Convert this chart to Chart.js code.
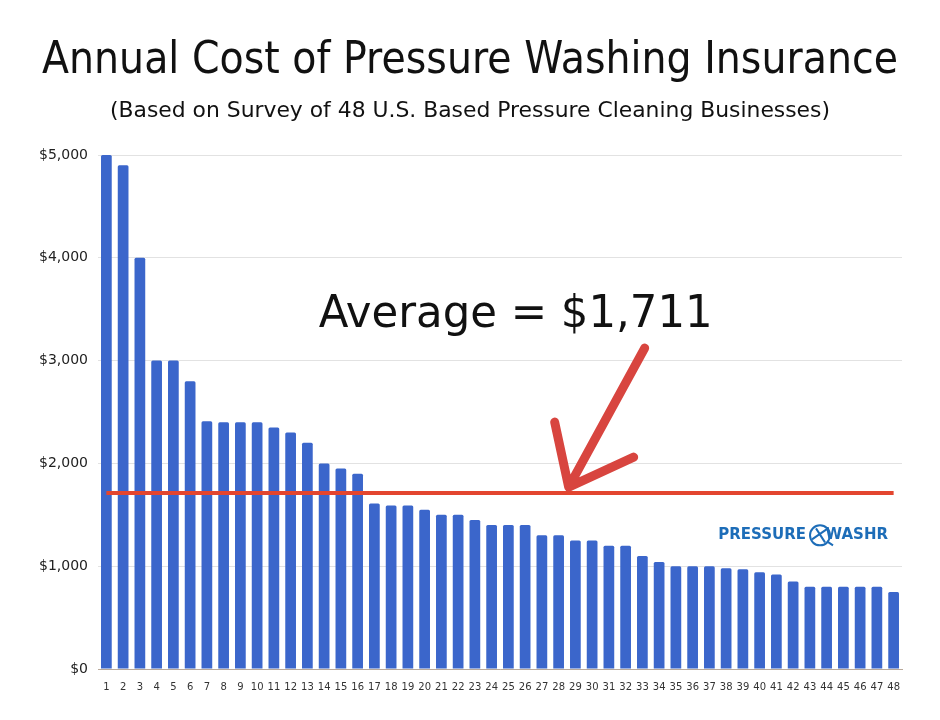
<!DOCTYPE html>
<html>
<head>
<meta charset="utf-8">
<script src="https://cdn.jsdelivr.net/npm/chart.js@4/dist/chart.umd.min.js"></script>
<style>
  html, body { margin: 0; padding: 0; background: #fff; }
  #wrap { width: 940px; height: 720px; }
</style>
</head>
<body>
<div id="wrap"><canvas id="chart" width="940" height="720"></canvas></div>
<script>
const $ = e => document.querySelector(e);

const businesses = Array.from({length: 48}, (_, i) => String(i + 1));
const annualCost = [
    5000, 4900, 4000, 3000, 3000, 2800, 2410, 2400, 2400, 2400,
    2350, 2300, 2200, 2000, 1950, 1900, 1610, 1590, 1590, 1550,
    1500, 1500, 1450, 1400, 1400, 1400, 1300, 1300, 1250, 1250,
    1200, 1200, 1100, 1040, 1000, 1000, 1000, 980, 970, 940,
    920, 850, 800, 800, 800, 800, 800, 750
];
const average = 1711;
const yTicks = [0, 1000, 2000, 3000, 4000, 5000];

const title = 'Annual Cost of Pressure Washing Insurance';
const subtitle = '(Based on Survey of 48 U.S. Based Pressure Cleaning Businesses)';
const avgLabel = 'Average = $1,711';

// text squeezed to the width the original (Tahoma) takes
function fitText(ctx, text, cx, baseline, font, width, color) {
    ctx.save();
    ctx.font = font;
    ctx.fillStyle = color;
    ctx.textBaseline = 'alphabetic';
    ctx.textAlign = 'left';
    const w = ctx.measureText(text).width;
    const k = width / w;
    ctx.translate(cx - width / 2, baseline);
    ctx.scale(k, 1);
    ctx.fillText(text, 0, 0);
    ctx.restore();
}

const decor = {
    id: 'decor',
    afterDraw(chart) {
        const ctx = chart.ctx;
        const x = chart.scales.x, y = chart.scales.y;
        const area = chart.chartArea;

        fitText(ctx, title, 470, 73, '44px "DejaVu Sans"', 856, '#111');
        fitText(ctx, subtitle, 470, 117, '21px "DejaVu Sans Condensed", "DejaVu Sans"', 720, '#111');

        // arrow pointing at the average line
        const step = x.getPixelForValue(1) - x.getPixelForValue(0);
        const tipX = x.getPixelForValue(27) + 0.6 * step;
        const tipY = y.getPixelForValue(average) - 6;
        ctx.save();
        ctx.strokeStyle = '#d8453f';
        ctx.lineWidth = 9;
        ctx.lineCap = 'round';
        ctx.lineJoin = 'round';
        ctx.beginPath();
        ctx.moveTo(tipX + 76, tipY - 139);
        ctx.lineTo(tipX, tipY);
        ctx.moveTo(tipX - 14, tipY - 65);
        ctx.lineTo(tipX, tipY);
        ctx.lineTo(tipX + 65, tipY - 30);
        ctx.stroke();
        ctx.restore();

        fitText(ctx, avgLabel, tipX - 53, tipY - 160, '45px "DejaVu Sans"', 394, '#111');

        // watermark
        const ly = y.getPixelForValue(1300);
        const lr = area.right - 14;
        ctx.save();
        ctx.fillStyle = '#1d6db8';
        ctx.font = 'bold 15px "DejaVu Sans"';
        ctx.textBaseline = 'middle';
        ctx.textAlign = 'right';
        ctx.fillText('WASHR', lr, ly);
        ctx.fillText('PRESSURE', lr - 82, ly);
        ctx.strokeStyle = '#1d6db8';
        ctx.lineWidth = 2;
        ctx.beginPath();
        ctx.arc(lr - 68, ly, 10, 0, Math.PI * 2);
        ctx.stroke();
        ctx.beginPath();
        ctx.moveTo(lr - 76, ly + 4);
        ctx.lineTo(lr - 60, ly - 7);
        ctx.moveTo(lr - 72, ly - 7);
        ctx.lineTo(lr - 63, ly + 7);
        ctx.moveTo(lr - 61, ly + 6);
        ctx.lineTo(lr - 55, ly + 10);
        ctx.stroke();
        ctx.restore();
    }
};

const chart = new Chart($('#chart'), {
    type: 'bar',
    data: {
        labels: businesses,
        datasets: [{
            type: 'line',
            label: 'Average',
            data: businesses.map(() => average),
            borderColor: '#e3452f',
            borderWidth: 4,
            pointRadius: 0,
            order: 0
        }, {
            label: 'Annual cost',
            data: annualCost,
            backgroundColor: '#3b66cb',
            borderRadius: 1.5,
            borderSkipped: 'bottom',
            barPercentage: 0.64,
            categoryPercentage: 1,
            order: 1
        }]
    },
    options: {
        responsive: false,
        animation: false,
        layout: { padding: { top: 155, right: 38, bottom: 21, left: 0 } },
        plugins: {
            legend: { display: false },
            tooltip: { enabled: false }
        },
        scales: {
            x: {
                grid: { display: false },
                border: { display: true, color: '#b9a99a', width: 1 },
                ticks: {
                    color: '#333',
                    font: { family: 'DejaVu Sans', size: 10 },
                    padding: 4,
                    maxRotation: 0,
                    autoSkip: false
                },
                afterFit: s => { s.height = 30; }
            },
            y: {
                min: 0,
                max: 5000,
                afterBuildTicks: s => { s.ticks = yTicks.map(v => ({value: v})); },
                grid: { color: '#e2e2e2', drawTicks: false },
                border: { display: false },
                ticks: {
                    color: '#222',
                    font: { family: 'DejaVu Sans', size: 14 },
                    padding: 10,
                    callback: v => '$' + v.toLocaleString('en-US')
                },
                afterFit: s => { s.width = 98; }
            }
        }
    },
    plugins: [decor]
});
</script>
</body>
</html>
